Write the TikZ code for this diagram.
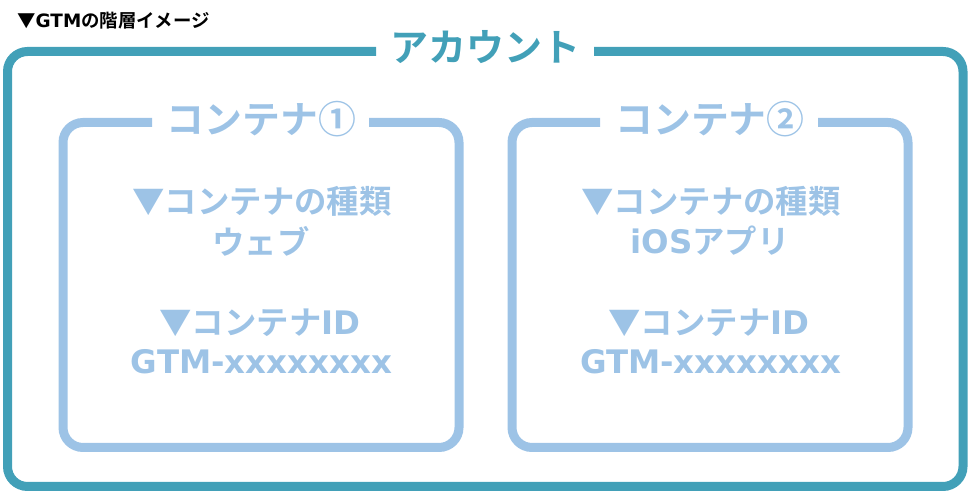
\documentclass[tikz,border=0pt]{standalone}
\usepackage{fontspec}
\setmainfont{Noto Sans CJK JP}[BoldFont={Noto Sans CJK JP Bold}]
\newfontfamily\latfont{DejaVu Sans}[Scale=1.0, BoldFont={DejaVu Sans Bold}]
\newcommand{\lat}[1]{{\latfont\bfseries #1}}
\definecolor{acct}{HTML}{42A0B8}
\definecolor{cont}{HTML}{9DC3E6}
\tikzset{
  frame/.style={line width=6.75pt, rounded corners=15pt},
  acctlabel/.style={font=\bfseries\fontsize{28.5pt}{30pt}\selectfont, text=acct, inner sep=0pt},
  contlabel/.style={font=\bfseries\fontsize{28.4pt}{30pt}\selectfont, text=cont, inner sep=0pt},
  conttext/.style={font=\bfseries\fontsize{24.3pt}{26pt}\selectfont, text=cont, inner sep=0pt},
  titletext/.style={font=\bfseries\fontsize{13.8pt}{16pt}\selectfont, text=black, inner sep=0pt, anchor=west}
}
\begin{document}
\begin{tikzpicture}[x=0.75pt, y=-0.75pt]
\useasboundingbox (0,0) rectangle (968,491);
% title
\node[titletext] (title) at (17,21) {▼\lat{GTM}の階層イメージ};
% account frame
\node[acctlabel] (acc) at (485,47.5) {アカウント};
\coordinate (accL) at (376,51.5);
\coordinate (accR) at (594,51.5);
\draw[frame, draw=acct] (accL) -- (7.5,51.5) -- (7.5,486.5) -- (963,486.5) -- (963,51.5) -- (accR);
% container 1
\node[contlabel] (c1) at (261.5,119) {コンテナ①};
\coordinate (c1L) at (152,122.5);
\coordinate (c1R) at (369,122.5);
\draw[frame, draw=cont] (c1L) -- (63,122.5) -- (63,447.5) -- (459,447.5) -- (459,122.5) -- (c1R);
\node[conttext] (c1a) at (262,201.5) {▼コンテナの種類};
\node[conttext] (c1b) at (261,241) {ウェブ};
\node[conttext] (c1c) at (260,322.5) {▼コンテナ\lat{ID}};
\node[conttext] (c1d) at (261.5,362) {\lat{GTM-xxxxxxxx}};
% container 2
\node[contlabel] (c2) at (710,119) {コンテナ②};
\coordinate (c2L) at (600,122.5);
\coordinate (c2R) at (818,122.5);
\draw[frame, draw=cont] (c2L) -- (512,122.5) -- (512,447.5) -- (908,447.5) -- (908,122.5) -- (c2R);
\node[conttext] (c2a) at (711,201.5) {▼コンテナの種類};
\node[conttext] (c2b) at (710,241) {\lat{iOS}アプリ};
\node[conttext] (c2c) at (709,322.5) {▼コンテナ\lat{ID}};
\node[conttext] (c2d) at (710.5,362) {\lat{GTM-xxxxxxxx}};
\end{tikzpicture}
\end{document}
